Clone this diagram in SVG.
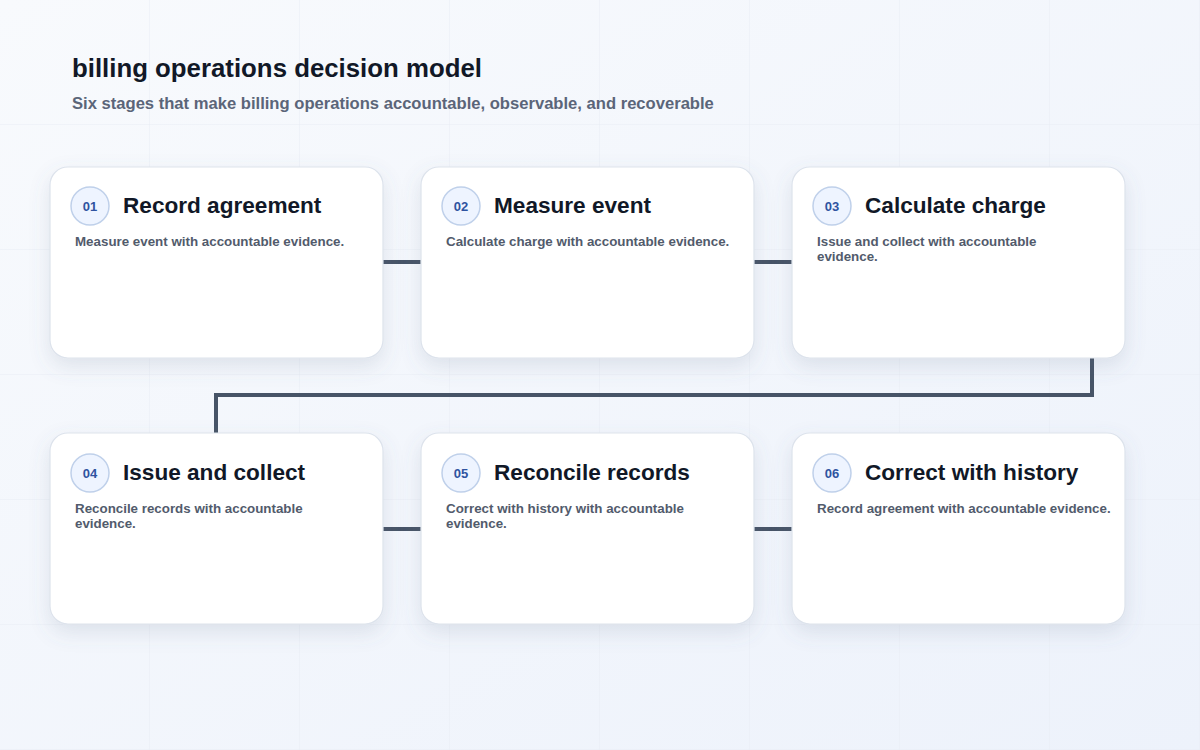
<svg xmlns="http://www.w3.org/2000/svg" width="1200" height="750" viewBox="0 0 1200 750">
<defs>
<linearGradient id="bg" x1="0" y1="0" x2="1" y2="1">
<stop offset="0" stop-color="#f8fafd"/>
<stop offset="1" stop-color="#edf2fb"/>
</linearGradient>
<pattern id="grid" width="150" height="125" patternUnits="userSpaceOnUse">
<path d="M150 0V125M0 125H150" fill="none" stroke="#e8edf4" stroke-width="1"/>
</pattern>
<filter id="sh" x="-20%" y="-20%" width="140%" height="150%">
<feDropShadow dx="0" dy="8" stdDeviation="10" flood-color="#64748b" flood-opacity="0.16"/>
</filter>
</defs>
<style>
.card{fill:#ffffff;stroke:#dde3ec;stroke-width:1.2;filter:url(#sh)}
.badge{fill:#eef4ff;stroke:#bfd0ea;stroke-width:1.5}
.num{font-family:"Liberation Sans",Arial,sans-serif;font-weight:700;font-size:13px;fill:#2f53a0;text-anchor:middle}
.title{font-family:"Liberation Sans",Arial,sans-serif;font-weight:700;font-size:22.6px;fill:#111827}
.desc{font-family:"Liberation Sans",Arial,sans-serif;font-weight:700;font-size:13.35px;fill:#525b6c}
.conn{fill:none;stroke:#475467;stroke-width:4}
</style>
<rect width="1200" height="750" fill="url(#bg)"/>
<rect width="1200" height="750" fill="url(#grid)"/>
<text x="72" y="77" font-family="'Liberation Sans',Arial,sans-serif" font-weight="700" font-size="25.8" fill="#111827">billing operations decision model</text>
<text x="72" y="109" font-family="'Liberation Sans',Arial,sans-serif" font-weight="700" font-size="16.6" fill="#5b6579">Six stages that make billing operations accountable, observable, and recoverable</text>
<g id="connectors">
<path class="conn" d="M383 262H421"/>
<path class="conn" d="M754 262H792"/>
<path class="conn" d="M1092 358V395H216V433"/>
<path class="conn" d="M383 529H421"/>
<path class="conn" d="M754 529H792"/>
</g>
<g id="node1">
<rect class="card" x="50" y="167" width="333" height="191" rx="18"/>
<circle class="badge" cx="90" cy="206" r="19"/>
<text class="num" x="90" y="211">01</text>
<text class="title" x="123" y="213">Record agreement</text>
<text class="desc" x="75" y="246">Measure event with accountable evidence.</text>
</g>
<g id="node2">
<rect class="card" x="421" y="167" width="333" height="191" rx="18"/>
<circle class="badge" cx="461" cy="206" r="19"/>
<text class="num" x="461" y="211">02</text>
<text class="title" x="494" y="213">Measure event</text>
<text class="desc" x="446" y="246">Calculate charge with accountable evidence.</text>
</g>
<g id="node3">
<rect class="card" x="792" y="167" width="333" height="191" rx="18"/>
<circle class="badge" cx="832" cy="206" r="19"/>
<text class="num" x="832" y="211">03</text>
<text class="title" x="865" y="213">Calculate charge</text>
<text class="desc" x="817" y="246">Issue and collect with accountable</text>
<text class="desc" x="817" y="261">evidence.</text>
</g>
<g id="node4">
<rect class="card" x="50" y="433" width="333" height="191" rx="18"/>
<circle class="badge" cx="90" cy="473" r="19"/>
<text class="num" x="90" y="478">04</text>
<text class="title" x="123" y="480">Issue and collect</text>
<text class="desc" x="75" y="513">Reconcile records with accountable</text>
<text class="desc" x="75" y="528">evidence.</text>
</g>
<g id="node5">
<rect class="card" x="421" y="433" width="333" height="191" rx="18"/>
<circle class="badge" cx="461" cy="473" r="19"/>
<text class="num" x="461" y="478">05</text>
<text class="title" x="494" y="480">Reconcile records</text>
<text class="desc" x="446" y="513">Correct with history with accountable</text>
<text class="desc" x="446" y="528">evidence.</text>
</g>
<g id="node6">
<rect class="card" x="792" y="433" width="333" height="191" rx="18"/>
<circle class="badge" cx="832" cy="473" r="19"/>
<text class="num" x="832" y="478">06</text>
<text class="title" x="865" y="480">Correct with history</text>
<text class="desc" x="817" y="513">Record agreement with accountable evidence.</text>
</g>
</svg>
